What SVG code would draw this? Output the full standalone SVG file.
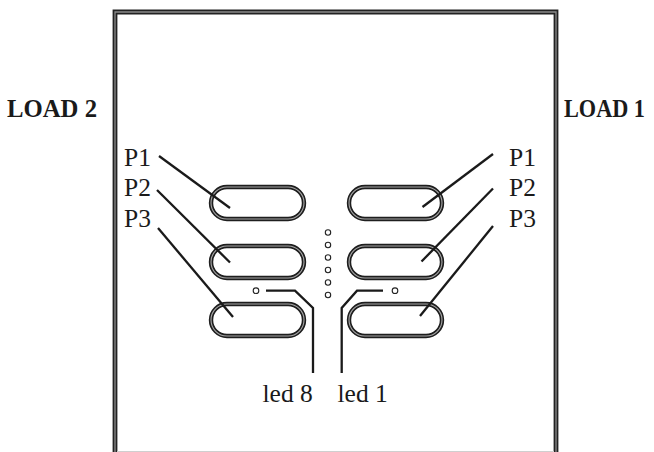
<svg xmlns="http://www.w3.org/2000/svg" width="654" height="452" viewBox="0 0 654 452">
<style>
.fo{fill:none;stroke:#222;stroke-width:4.8}
.fi{fill:none;stroke:#8a8a8a;stroke-width:1.3}
.po{fill:none;stroke:#1e1e1e;stroke-width:4.4}
.pi{fill:none;stroke:#a8a8a8;stroke-width:1.1}
.ld{fill:none;stroke:#1a1a1a;stroke-width:2.3}
.led{fill:#fff;stroke:#222;stroke-width:1.1}
.lbl{font-family:"Liberation Serif","Times New Roman",serif;font-size:25.5px;fill:#1a1a1a}
.ttl{font-family:"Liberation Serif","Times New Roman",serif;font-size:25px;font-weight:bold;fill:#1a1a1a}
</style>
<defs>
<g id="pill"><rect class="po" x="0" y="0" width="93" height="32" rx="16"/><rect class="pi" x="0" y="0" width="93" height="32" rx="16"/></g>
</defs>
<g id="frame">
<path class="fo" d="M115,452 V12 H556 V452"/>
<path class="fi" d="M115,452 V12 H556 V452"/>
<line x1="117" y1="451.5" x2="554" y2="451.5" stroke="#cfcfcf" stroke-width="1"/>
</g>
<g id="load2"><text class="ttl" x="7" y="117" textLength="90" lengthAdjust="spacingAndGlyphs">LOAD 2</text></g>
<g id="load1"><text class="ttl" x="564" y="117" textLength="81" lengthAdjust="spacingAndGlyphs">LOAD 1</text></g>
<g id="left-buttons">
<use href="#pill" x="211" y="187"/>
<use href="#pill" x="211" y="246"/>
<use href="#pill" x="211" y="304"/>
</g>
<g id="right-buttons">
<use href="#pill" x="349" y="187"/>
<use href="#pill" x="349" y="246"/>
<use href="#pill" x="349" y="304"/>
</g>
<g id="leds">
<circle class="led" cx="328" cy="232.5" r="2.7"/>
<circle class="led" cx="328" cy="245" r="2.7"/>
<circle class="led" cx="328" cy="257.5" r="2.7"/>
<circle class="led" cx="328" cy="270" r="2.7"/>
<circle class="led" cx="328" cy="282.5" r="2.7"/>
<circle class="led" cx="328" cy="295" r="2.7"/>
<circle class="led" cx="256" cy="290.7" r="2.8"/>
<circle class="led" cx="395" cy="290.7" r="2.8"/>
</g>
<g id="connectors">
<line class="ld" x1="159" y1="156" x2="230" y2="208"/>
<line class="ld" x1="157" y1="190" x2="230" y2="262.5"/>
<line class="ld" x1="158" y1="228" x2="233" y2="317"/>
<line class="ld" x1="493" y1="154" x2="422.5" y2="207"/>
<line class="ld" x1="493" y1="188.5" x2="421.5" y2="261.5"/>
<line class="ld" x1="493" y1="226" x2="420" y2="316"/>
<path class="ld" d="M266,290.7 H295 L313,308 V373"/>
<path class="ld" d="M383,290.7 H357 L341.7,308 V373"/>
</g>
<g id="labels">
<text class="lbl" x="124" y="166">P1</text>
<text class="lbl" x="124" y="196">P2</text>
<text class="lbl" x="124" y="227">P3</text>
<text class="lbl" x="509" y="166">P1</text>
<text class="lbl" x="509" y="196">P2</text>
<text class="lbl" x="509" y="227">P3</text>
<text class="lbl" x="262.5" y="401.5">led 8</text>
<text class="lbl" x="337.5" y="401.5">led 1</text>
</g>
</svg>
